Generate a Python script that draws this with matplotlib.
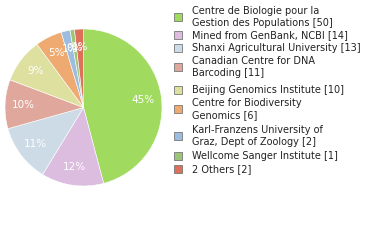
import math
import matplotlib
matplotlib.use("Agg")
import matplotlib.pyplot as plt
from matplotlib.patches import Rectangle

labels = ["Centre de Biologie pour la\nGestion des Populations",
          "Mined from GenBank, NCBI",
          "Shanxi Agricultural University",
          "Canadian Centre for DNA\nBarcoding",
          "Beijing Genomics Institute",
          "Centre for Biodiversity\nGenomics",
          "Karl-Franzens University of\nGraz, Dept of Zoology",
          "Wellcome Sanger Institute",
          "2 Others"]
counts = [50, 14, 13, 11, 10, 6, 2, 1, 2]
colors = ["#a0da5e", "#dcbcdf", "#cddbe6", "#e0a89c", "#dde09e",
          "#eeaa70", "#9dbde0", "#9ec47a", "#dd705a"]

W, H = 380, 240
fig = plt.figure(figsize=(W / 100, H / 100), dpi=100)
ax = fig.add_axes([5 / W, 1 - 186 / H, 157 / W, 157 / H])

def fmt(p):
    return "%d%%" % math.floor(p + 1e-9)

wedges, texts, autotexts = ax.pie(
    counts, colors=colors, startangle=90, counterclock=False,
    autopct=fmt, pctdistance=0.77,
    wedgeprops=dict(edgecolor="white", linewidth=0.4),
    textprops=dict(color="white", fontsize=7.5))
ax.set_xlim(-1.0, 1.0)
ax.set_ylim(-1.0, 1.0)
ax.set_aspect("equal")

# legend
y_centers = [17, 35, 48, 67, 90, 109, 136, 156, 169]
for lab, n, c, yc in zip(labels, counts, colors, y_centers):
    fig.patches.append(Rectangle(((174) / W, 1 - (yc + 4) / H), 8 / W, 8 / H,
                                 transform=fig.transFigure, facecolor=c,
                                 edgecolor="#777777", linewidth=0.6))
    fig.text(192 / W, 1 - yc / H, "%s [%d]" % (lab, n), fontsize=7,
             va="center", ha="left", color="#222222", linespacing=1.25)

fig.savefig("out.png", dpi=100)
